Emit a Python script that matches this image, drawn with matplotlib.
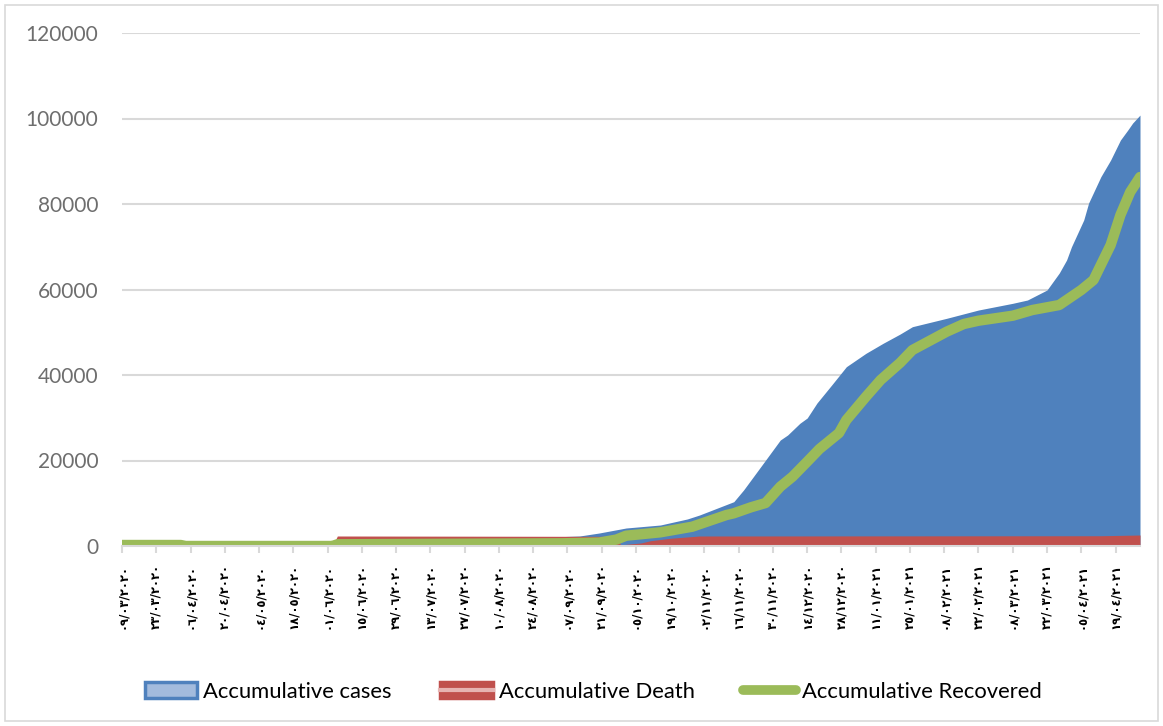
import matplotlib
matplotlib.use("Agg")
import matplotlib.pyplot as plt
import pandas as pd
from matplotlib.patches import Rectangle
from matplotlib.lines import Line2D
from matplotlib.legend_handler import HandlerTuple

start = pd.Timestamp("2020-03-09")

cases_dates = ["2020-03-09", "2020-04-02", "2020-05-08", "2020-06-03", "2020-07-07",
               "2020-08-06", "2020-09-05", "2020-09-12", "2020-09-20", "2020-10-01",
               "2020-10-15", "2020-10-26", "2020-10-31", "2020-11-14", "2020-11-18",
               "2020-11-22", "2020-11-27", "2020-12-03", "2020-12-06", "2020-12-11",
               "2020-12-14", "2020-12-18", "2020-12-24", "2020-12-30", "2021-01-07",
               "2021-01-14", "2021-01-21", "2021-01-26", "2021-02-09", "2021-02-22",
               "2021-03-08", "2021-03-14", "2021-03-22", "2021-03-27", "2021-03-30",
               "2021-04-01", "2021-04-06", "2021-04-08", "2021-04-13", "2021-04-17",
               "2021-04-21", "2021-04-24", "2021-04-26", "2021-04-29"]
cases_values = [0, 300, 700, 1000, 1400, 1800, 2200, 2340, 3040, 4210,
                4910, 6320, 7250, 10360, 13100, 16210, 20100, 24790, 25960, 28700,
                29940, 33450, 37660, 41940, 45070, 47410, 49590, 51300, 53260, 55200,
                56770, 57540, 59880, 63850, 66900, 70000, 76250, 80230, 86380, 90290,
                94960, 97300, 98940, 100800]

death_dates = ["2020-03-09", "2020-06-03", "2020-06-05", "2020-09-27", "2020-09-29",
               "2020-10-01", "2020-10-07", "2020-10-11", "2020-10-19", "2020-10-31",
               "2021-04-13", "2021-04-29"]
death_values = [0, 0, 2340, 2250, 0, 400, 700, 1240, 1800, 2340, 2400, 2570]

recovered_dates = ["2020-03-09", "2020-04-02", "2020-04-04", "2020-06-03", "2020-06-05",
                   "2020-09-05", "2020-09-20", "2020-09-27", "2020-10-01", "2020-10-15",
                   "2020-10-28", "2020-11-11", "2020-11-14", "2020-11-21", "2020-11-27",
                   "2020-12-03", "2020-12-08", "2020-12-14", "2020-12-19", "2020-12-27",
                   "2020-12-30", "2021-01-07", "2021-01-13", "2021-01-21", "2021-01-26",
                   "2021-02-09", "2021-02-16", "2021-02-22", "2021-03-08", "2021-03-16",
                   "2021-03-27", "2021-03-30", "2021-04-05", "2021-04-10", "2021-04-13",
                   "2021-04-17", "2021-04-21", "2021-04-25", "2021-04-29"]
recovered_values = [230, 230, 0, 0, 400, 630, 800, 1500, 2410, 3200,
                    4510, 7250, 7650, 9050, 10060, 13870, 16210, 19720, 22690, 26430,
                    29470, 34920, 38830, 42870, 45840, 50130, 51930, 52700, 53870, 55200,
                    56370, 57540, 59880, 62220, 65730, 70400, 77420, 82800, 86310]

tick_dates = ["09/03/2020", "23/03/2020", "06/04/2020", "20/04/2020", "04/05/2020",
              "18/05/2020", "01/06/2020", "15/06/2020", "29/06/2020", "13/07/2020",
              "27/07/2020", "10/08/2020", "24/08/2020", "07/09/2020", "21/09/2020",
              "05/10/2020", "19/10/2020", "02/11/2020", "16/11/2020", "30/11/2020",
              "14/12/2020", "28/12/2020", "11/01/2021", "25/01/2021", "08/02/2021",
              "22/02/2021", "08/03/2021", "22/03/2021", "05/04/2021", "19/04/2021"]
y_ticks = [0, 20000, 40000, 60000, 80000, 100000, 120000]

series_names = ["Accumulative cases", "Accumulative Death", "Accumulative Recovered"]

ARABIC = str.maketrans("0123456789", "٠١٢٣٤٥٦٧٨٩")


def days(ds, fmt=None):
    return [(pd.to_datetime(d, format=fmt) - start).days for d in ds]


BLUE = "#4F81BD"
RED = "#C0504D"
GREEN = "#9BBB59"
GRID = "#D9D9D9"

fig = plt.figure(figsize=(11.63, 7.26), dpi=100)
ax = fig.add_axes([122 / 1163, 1 - 546 / 726, (1140 - 122) / 1163, (546 - 33) / 726])

ax.fill_between(days(cases_dates), cases_values, 0, color=BLUE, lw=0, zorder=2)
ax.fill_between(days(death_dates), death_values, 0, color=RED, lw=0, zorder=3)
ax.plot(days(recovered_dates), recovered_values, color=GREEN, lw=7.5,
        solid_capstyle="round", solid_joinstyle="round", zorder=4)

ax.set_xlim(0, 416)
ax.set_ylim(0, 120000)
ax.set_yticks(y_ticks)
ax.set_yticklabels([str(v) for v in y_ticks], fontfamily="Lato", fontsize=15, color="#6E6E6E")
ax.tick_params(axis="y", length=0, pad=17)
ax.yaxis.grid(True, color=GRID, lw=1.5, zorder=0)
ax.set_axisbelow(True)

ax.set_xticks(days(tick_dates, fmt="%d/%m/%Y"))
ax.set_xticklabels([t.translate(ARABIC) for t in tick_dates], rotation=90,
                   fontfamily=["DejaVu Sans"], fontsize=8.4, fontweight="bold", color="black")
ax.tick_params(axis="x", length=5, width=1.5, color=GRID, pad=8)

for s in ["top", "right", "left"]:
    ax.spines[s].set_visible(False)
ax.spines["bottom"].set_color(GRID)
ax.spines["bottom"].set_linewidth(1.5)
ax.spines["bottom"].set_zorder(5)

# legend
h_cases = Rectangle((0, 0), 1, 1, facecolor="#A3BBDD", edgecolor=BLUE, lw=2.5)
h_death = (Rectangle((0, 0), 1, 1, facecolor=RED, edgecolor=RED, lw=2.5),
           Line2D([0.2, 0.8], [0.5, 0.5], color="#E6B3B2", lw=3))
h_rec = Line2D([], [], color=GREEN, lw=7, solid_capstyle="round")
fig.legend([h_cases, h_death, h_rec], series_names, loc="center",
           bbox_to_anchor=(593 / 1163, 1 - 692 / 726), ncol=3, frameon=False,
           prop={"family": "Lato", "size": 15.8}, handlelength=2.4, handleheight=0.75,
           handletextpad=0.27, columnspacing=2.2,
           handler_map={tuple: HandlerTuple(ndivide=1, pad=0)})

fig.patches.append(Rectangle((5 / 1163, 5 / 726), 1153 / 1163, 716 / 726,
                             transform=fig.transFigure, fill=False,
                             edgecolor=GRID, lw=1.2))

fig.savefig("out.png", dpi=100)
